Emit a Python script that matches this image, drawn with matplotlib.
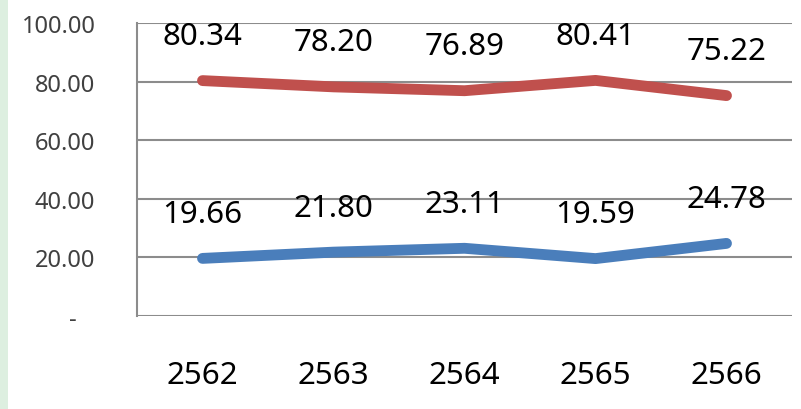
import matplotlib
matplotlib.use("Agg")
import matplotlib.pyplot as plt
from matplotlib.patches import Rectangle

years = ["2562", "2563", "2564", "2565", "2566"]
red_values = [80.34, 78.20, 76.89, 80.41, 75.22]
blue_values = [19.66, 21.80, 23.11, 19.59, 24.78]
y_ticks = [0, 20, 40, 60, 80, 100]
y_tick_labels = ["-   ", "20.00", "40.00", "60.00", "80.00", "100.00"]

plt.rcParams['font.family'] = ['Noto Sans', 'DejaVu Sans']

fig = plt.figure(figsize=(8.01, 4.10), dpi=100)
fig.patches.append(Rectangle((0, 0), 8 / 801, 1, transform=fig.transFigure,
                             facecolor="#DDEFE0", edgecolor="none", zorder=0))

ax = fig.add_axes([137 / 801, 1 - 317 / 410, (792 - 137) / 801, (317 - 24) / 410])
x = list(range(len(years)))

grid_color = "#8C8C8C"
for t in y_ticks:
    ax.axhline(t, color=grid_color, lw=1.5, zorder=1)

ax.plot(x, red_values, color="#C0504D", lw=7.8, solid_capstyle="round",
        solid_joinstyle="round", zorder=3)
ax.plot(x, blue_values, color="#4A7EBB", lw=7.8, solid_capstyle="round",
        solid_joinstyle="round", zorder=3)

for xi, v in zip(x, red_values):
    ax.annotate(f"{v:.2f}", (xi, v), xytext=(0, 32), textcoords="offset points",
                ha="center", va="center", fontsize=22.5, color="black", zorder=4)
for xi, v in zip(x, blue_values):
    ax.annotate(f"{v:.2f}", (xi, v), xytext=(0, 32), textcoords="offset points",
                ha="center", va="center", fontsize=22.5, color="black", zorder=4)

ax.set_xlim(-0.5, len(years) - 0.5)
ax.set_ylim(0, 100)
ax.set_xticks(x)
ax.set_xticklabels(years, fontsize=22.5)
ax.set_yticks(y_ticks)
ax.set_yticklabels(y_tick_labels, fontsize=17, color="#404040")
ax.tick_params(axis="x", length=0, pad=32)
ax.tick_params(axis="y", length=0, pad=30)

for s in ["top", "right", "bottom"]:
    ax.spines[s].set_visible(False)
ax.spines["left"].set_color(grid_color)
ax.spines["left"].set_linewidth(1.5)
ax.set_facecolor("none")

fig.savefig("out.png", dpi=100)
